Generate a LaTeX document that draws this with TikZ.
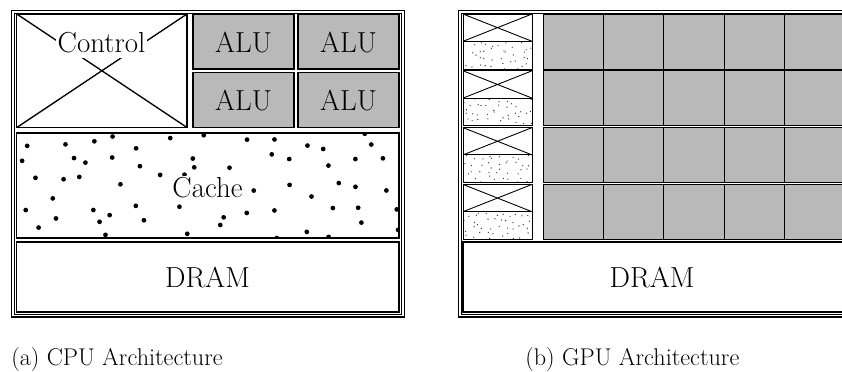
\documentclass[tikz,border=0pt]{standalone}
\usepackage{amsmath,amssymb}
\usepackage{xcolor}

\tikzset{
  frame/.style={draw, double, double distance=1.3pt, line width=0.7pt},
  blk/.style={draw, line width=0.9pt},
  alu/.style={blk, fill=gray!55},
  core/.style={draw, line width=0.6pt, fill=gray!55},
  unit/.style={draw, line width=0.6pt},
  lbl/.style={font=\fontsize{19.5}{23}\selectfont, inner sep=1pt},
  captxt/.style={font=\fontsize{16.3}{19}\selectfont, anchor=base west, inner sep=0pt}
}

\begin{document}
\begin{tikzpicture}[x=0.674pt,y=-0.674pt]
\useasboundingbox (0,0) rectangle (842,371);
\clip (0,0) rectangle (842,371);
\pgfmathsetseed{11}

% CPU
\draw[frame] (13.2,12.3) rectangle (402.6,315.5);
\draw[blk] (16.8,14) rectangle (187,127.5);
\draw[blk] (16.8,14) -- (187,127.5) (16.8,127.5) -- (187,14);
\node[lbl,fill=white,inner ysep=3pt] (ctrl) at (101.5,43) {Control};
\foreach \x/\y/\n in {193/14/alua, 298/14/alub, 193/72.5/aluc, 298/72.5/alud}{
  \draw[alu] (\x,\y) rectangle ++(101,55);
  \node[lbl] (\n) at (\x+50.5,\y+28) {ALU};
}
\begin{scope}
  \clip (16.8,133) rectangle (399,238);
  \foreach \c in {0,...,12}
    \foreach \r in {0,...,4}
      \fill ({16.8+29.5*\c+29.5*rnd},{131+21.5*\r+21.5*rnd}) circle (1.6pt);
\end{scope}
\draw[blk] (16.8,133) rectangle (399,238);
\node[lbl,fill=white] (cache) at (207.5,188) {Cache};
\draw[blk] (16.8,242) rectangle (399,312);
\node[lbl] (dram1) at (207.5,277) {DRAM};

% GPU
\draw[frame] (459.6,12.3) rectangle (849,315.5);
\foreach \i in {0,...,3}{
  \pgfmathsetmacro{\yo}{14+56.8*\i}
  \draw[unit] (463,\yo) rectangle (532,\yo+27.3);
  \draw[unit] (463,\yo) -- (532,\yo+27.3) (463,\yo+27.3) -- (532,\yo);
  \begin{scope}
    \clip (463,\yo+27.3) rectangle (532,\yo+55);
    \foreach \c in {0,...,9}
      \foreach \r in {0,...,3}
        \fill[black!80] ({463+6.9*\c+6.9*rnd},{\yo+27.3+6.9*\r+6.9*rnd}) circle (0.45pt);
  \end{scope}
  \draw[unit] (463,\yo+27.3) rectangle (532,\yo+55);
  \foreach \j in {0,...,5}
    \draw[core] ({543+60.4*\j},\yo) rectangle ++(60.4,55);
}
\draw[blk] (463,242) rectangle (846,312);
\node[lbl] (dram2) at (652,277) {DRAM};

% captions
\node[captxt] (capa) at (11,365) {(a) CPU Architecture};
\node[captxt] (capb) at (525,365) {(b) GPU Architecture};
\end{tikzpicture}
\end{document}
